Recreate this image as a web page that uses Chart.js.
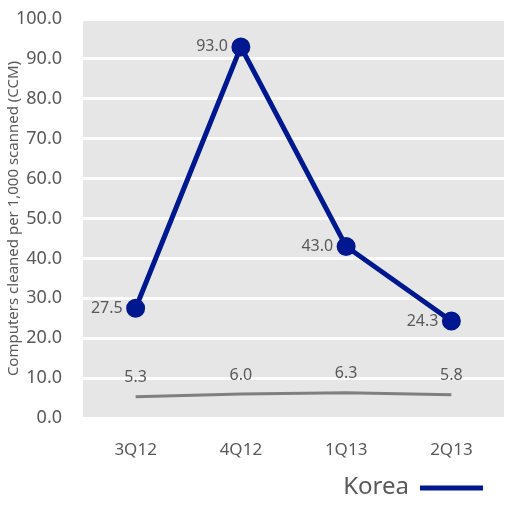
<!DOCTYPE html>
<html>
<head>
<meta charset="utf-8">
<script src="https://cdn.jsdelivr.net/npm/chart.js@4/dist/chart.umd.min.js"></script>
<style>
  html, body { margin: 0; padding: 0; background: #fff; }
  #wrap { width: 520px; height: 516px; }
</style>
</head>
<body>
<div id="wrap"><canvas id="myChart" width="520" height="516"></canvas></div>
<script>
const quarters = ["3Q12", "4Q12", "1Q13", "2Q13"];
const koreaValues = [27.5, 93.0, 43.0, 24.3];
const worldValues = [5.3, 6.0, 6.3, 5.8];
const yTitle = "Computers cleaned per 1,000 scanned (CCM)";

const labelColor = "#595959";
const fontFamily = "'Noto Sans', 'Open Sans', sans-serif";

// gray plot background behind the grid
const plotBackground = {
  id: "plotBackground",
  beforeDraw(chart) {
    const { ctx, chartArea } = chart;
    ctx.save();
    ctx.fillStyle = "#e6e6e6";
    ctx.fillRect(chartArea.left, chartArea.top, chartArea.right - chartArea.left, chartArea.bottom - chartArea.top);
    ctx.restore();
  },
};

// value labels next to the points
const valueLabels = {
  id: "valueLabels",
  afterDatasetsDraw(chart) {
    const ctx = chart.ctx;
    ctx.save();
    ctx.font = "16px " + fontFamily;
    ctx.fillStyle = labelColor;
    ctx.textBaseline = "middle";
    chart.data.datasets.forEach((ds, i) => {
      const meta = chart.getDatasetMeta(i);
      meta.data.forEach((pt, j) => {
        const txt = ds.data[j].toFixed(1);
        if (i === 0) {
          ctx.textAlign = "right";
          ctx.fillText(txt, pt.x - 13, pt.y);
        } else {
          ctx.textAlign = "center";
          ctx.fillText(txt, pt.x, pt.y - 19);
        }
      });
    });
    ctx.restore();
  },
};

// legend: text first, then a line sample (only the Korea series)
const koreaLegend = {
  id: "koreaLegend",
  afterDraw(chart) {
    const ctx = chart.ctx;
    const ds = chart.data.datasets[0];
    const y = chart.chartArea.bottom + 70;
    ctx.save();
    ctx.font = "24px " + fontFamily;
    ctx.fillStyle = labelColor;
    ctx.textAlign = "right";
    ctx.textBaseline = "middle";
    ctx.fillText(ds.label, 409, y - 1);
    ctx.strokeStyle = ds.borderColor;
    ctx.lineWidth = 5;
    ctx.beginPath();
    ctx.moveTo(420, y);
    ctx.lineTo(483, y);
    ctx.stroke();
    ctx.restore();
  },
};

const data = {
  labels: quarters,
  datasets: [
    {
      label: "Korea",
      data: koreaValues,
      borderColor: "#00188f",
      backgroundColor: "#00188f",
      borderWidth: 5,
      pointRadius: 7,
      pointHoverRadius: 7,
      tension: 0,
    },
    {
      label: "World",
      data: worldValues,
      borderColor: "#7f7f7f",
      backgroundColor: "#7f7f7f",
      borderWidth: 3,
      pointRadius: 0,
      tension: 0,
    },
  ],
};

const config = {
  type: "line",
  data: data,
  options: {
    responsive: false,
    animation: false,
    layout: { padding: { top: 19, right: 16, left: 0, bottom: 49 } },
    plugins: {
      tooltip: { enabled: false },
      legend: { display: false },
    },
    scales: {
      x: {
        offset: true,
        grid: { display: false, drawTicks: false },
        border: { display: false },
        ticks: {
          color: labelColor,
          font: { family: fontFamily, size: 17 },
          padding: 22,
        },
        afterFit: (s) => { s.height = 49; s.paddingLeft = 0; s.paddingRight = 0; },
      },
      y: {
        min: 0,
        max: 100,
        grid: { color: "#ffffff", lineWidth: 3, drawTicks: false },
        border: { display: false },
        ticks: {
          stepSize: 10,
          color: labelColor,
          font: { family: fontFamily, size: 18 },
          padding: 21,
          callback: (v) => v.toFixed(1),
        },
        title: {
          display: true,
          text: yTitle,
          color: labelColor,
          font: { family: fontFamily, size: 15 },
          padding: { top: 5, bottom: 0 },
        },
        afterFit: (s) => { s.width = 83; s.paddingTop = 0; s.paddingBottom = 0; },
      },
    },
  },
  plugins: [plotBackground, valueLabels, koreaLegend],
};

// render init block
const myChart = new Chart(document.getElementById("myChart"), config);
</script>
</body>
</html>
